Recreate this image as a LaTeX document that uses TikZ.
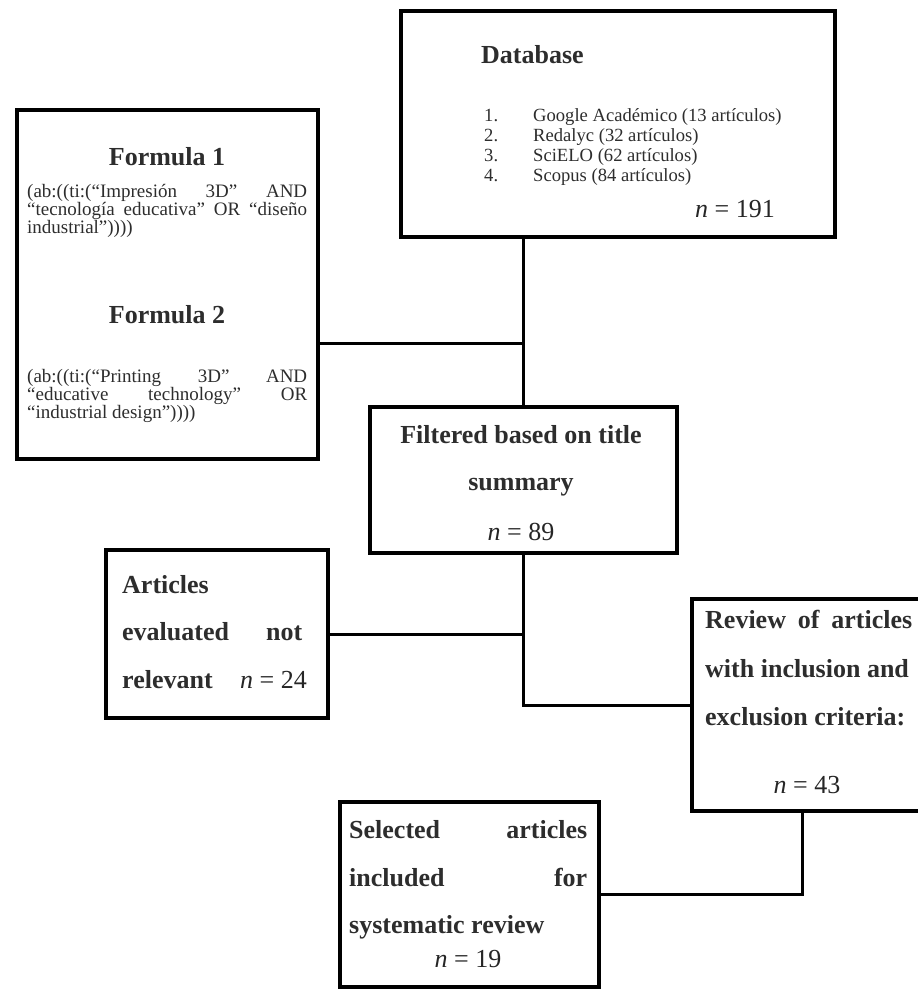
\documentclass[tikz,border=0pt]{standalone}
\usepackage{fontspec}
\setmainfont{Liberation Serif}
\definecolor{txt}{RGB}{45,45,45}
\begin{document}
\begin{tikzpicture}[x=1pt,y=-1pt,
  box/.style={draw=black, line width=4pt, inner sep=0pt, anchor=north west},
  conn/.style={draw=black, line width=3pt},
  ttl/.style={font=\fontsize{26}{30}\selectfont\bfseries, text=txt, inner sep=0pt},
  itm/.style={font=\fontsize{18.6}{20}\selectfont, text=txt, inner sep=0pt, anchor=base west},
  frm/.style={font=\fontsize{19}{20}\selectfont, text=txt, inner sep=0pt, anchor=base west},
  nval/.style={font=\fontsize{26}{30}\selectfont, text=black!85, inner sep=0pt}]
\useasboundingbox (0,0) rectangle (918,989);
% boxes
\node[box, minimum width=434pt, minimum height=226pt] (db) at (399,9) {};
\node[box, minimum width=301pt, minimum height=349pt] (form) at (15,108) {};
\node[box, minimum width=307pt, minimum height=146pt] (filt) at (368,405) {};
\node[box, minimum width=222pt, minimum height=168pt] (art) at (104,548) {};
\node[box, minimum width=240pt, minimum height=212pt] (rev) at (690,597) {};
\node[box, minimum width=259pt, minimum height=185pt] (sel) at (338,800) {};
% database text
\node[ttl, anchor=base west] (dbt) at (481,63) {Database};
\node[itm] (dbn1) at (484,121) {1.};
\node[itm] (dbi1) at (533,121) {Google Académico (13 artículos)};
\node[itm] (dbn2) at (484,141) {2.};
\node[itm] (dbi2) at (533,141) {Redalyc (32 artículos)};
\node[itm] (dbn3) at (484,161) {3.};
\node[itm] (dbi3) at (533,161) {SciELO (62 artículos)};
\node[itm] (dbn4) at (484,181) {4.};
\node[itm] (dbi4) at (533,181) {Scopus (84 artículos)};
\node[nval, anchor=base east] (dbv) at (775,217) {\textit{n} = 191};
% formula text
\node[ttl, anchor=base] (f1t) at (167,165) {Formula 1};
\node[frm] (f1a) at (27,197) {\makebox[280pt][s]{(ab:((ti:(“Impresión 3D” AND}};
\node[frm] (f1b) at (27,215) {\makebox[280pt][s]{“tecnología educativa” OR “diseño}};
\node[frm] (f1c) at (27,233) {industrial”))))};
\node[ttl, anchor=base] (f2t) at (167,323) {Formula 2};
\node[frm] (f2a) at (27,382) {\makebox[280pt][s]{(ab:((ti:(“Printing 3D” AND}};
\node[frm] (f2b) at (27,400) {\makebox[280pt][s]{“educative technology” OR}};
\node[frm] (f2c) at (27,418) {“industrial design”))))};
% filtered text
\node[ttl, anchor=base] (ft1) at (521,443) {Filtered based on title};
\node[ttl, anchor=base] (ft2) at (521,490) {summary};
\node[nval, anchor=base] (ftv) at (521,540) {\textit{n} = 89};
% articles text
\node[ttl, anchor=base west] (at1) at (122,593) {Articles};
\node[ttl, anchor=base west] (at2) at (122,640) {\makebox[180pt][s]{evaluated not}};
\node[ttl, anchor=base west] (at3) at (122,688) {relevant};
\node[nval, anchor=base east] (atv) at (307,688) {\textit{n} = 24};
% review text
\node[ttl, anchor=base west] (rt1) at (705,628) {\makebox[207pt][s]{Review of articles}};
\node[ttl, anchor=base west] (rt2) at (705,677) {with inclusion and};
\node[ttl, anchor=base west] (rt3) at (705,725) {exclusion criteria:};
\node[nval, anchor=base] (rtv) at (807,793) {\textit{n} = 43};
% selected text
\node[ttl, anchor=base west] (st1) at (349,838) {\makebox[238pt][s]{Selected articles}};
\node[ttl, anchor=base west] (st2) at (349,886) {\makebox[238pt][s]{included for}};
\node[ttl, anchor=base west] (st3) at (349,933) {systematic review};
\node[nval, anchor=base] (stv) at (468,967) {\textit{n} = 19};
% connectors
\coordinate (jf) at (filt.north |- 0,343);
\draw[conn] (db.south -| filt.north) -- (filt.north);
\draw[conn] (form.east |- jf) -- (jf);
\draw[conn] (art.east) -- (art.east -| filt.south);
\draw[conn] (filt.south) |- (rev.west);
\draw[conn] ([xshift=-10pt]rev.south) |- (sel.east);
\end{tikzpicture}
\end{document}
